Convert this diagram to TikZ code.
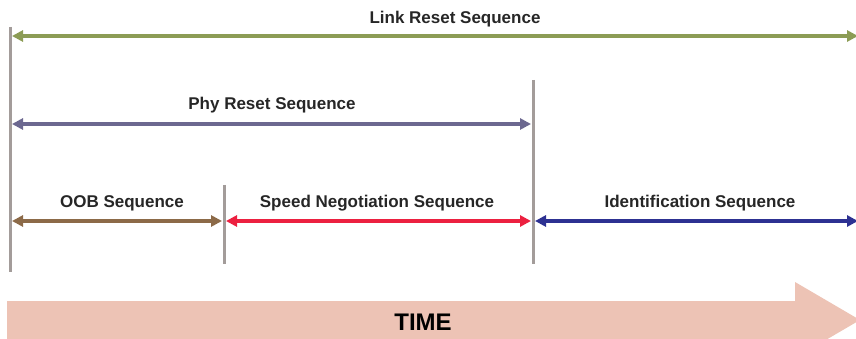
\documentclass[tikz,border=0pt]{standalone}
\usepackage{fontspec}
\setmainfont{Liberation Sans}
\usetikzlibrary{arrows.meta}
\definecolor{vgray}{HTML}{A39C9A}
\definecolor{linkc}{HTML}{8C9C55}
\definecolor{phyc}{HTML}{6C6890}
\definecolor{oobc}{HTML}{8C6A48}
\definecolor{speedc}{HTML}{EC2040}
\definecolor{identc}{HTML}{2D3192}
\definecolor{timec}{HTML}{EDC3B5}
\definecolor{txtc}{HTML}{262626}
\tikzset{
  vbar/.style={draw=vgray, line width=3pt},
  span/.style={line width=3.5pt, {Triangle[length=11pt,width=11pt]}-{Triangle[length=11pt,width=11pt]}},
  lbl/.style={font=\fontsize{17}{19}\selectfont\bfseries, text=txtc, inner sep=0pt},
}
\begin{document}
\begin{tikzpicture}[x=1pt,y=-1pt]
\useasboundingbox (0,0) rectangle (856,339);
% vertical markers
\coordinate (v1t) at (10,27); \coordinate (v1b) at (10,272);
\coordinate (v2t) at (224,185); \coordinate (v2b) at (224,264);
\coordinate (v3t) at (533,80); \coordinate (v3b) at (533,264);
\draw[vbar] (v1t) -- (v1b);
\draw[vbar] (v2t) -- (v2b);
\draw[vbar] (v3t) -- (v3b);
% arrow end points
\coordinate (l1) at (12,36); \coordinate (l2) at (858,36);
\coordinate (p1) at (12,124); \coordinate (p2) at (531,124);
\coordinate (o1) at (12,221); \coordinate (o2) at (222,221);
\coordinate (s1) at (226,221); \coordinate (s2) at (531,221);
\coordinate (i1) at (535,221); \coordinate (i2) at (858,221);
\draw[span, draw=linkc, fill=linkc] (l1) -- (l2);
\draw[span, draw=phyc, fill=phyc] (p1) -- (p2);
\draw[span, draw=oobc, fill=oobc] (o1) -- (o2);
\draw[span, draw=speedc, fill=speedc] (s1) -- (s2);
\draw[span, draw=identc, fill=identc] (i1) -- (i2);
% labels
\node[lbl] (tl) at (455,19) {Link Reset Sequence};
\node[lbl] (tp) at (272,105) {Phy Reset Sequence};
\node[lbl] (to) at (122,203) {OOB Sequence};
\node[lbl] (ts) at (377,203) {Speed Negotiation Sequence};
\node[lbl] (ti) at (700,203) {Identification Sequence};
% time arrow
\fill[timec] (7,301) -- (795,301) -- (795,282) -- (860,320) -- (795,358) -- (795,339) -- (7,339) -- cycle;
\node[font=\fontsize{24}{26}\selectfont\bfseries, text=black, inner sep=0pt] (time) at (423,322) {TIME};
\end{tikzpicture}
\end{document}
